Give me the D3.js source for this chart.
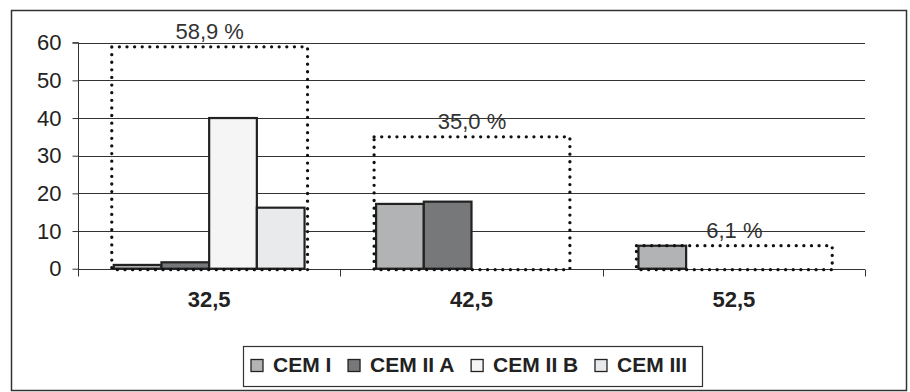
<!DOCTYPE html>
<html>
<head>
<meta charset="utf-8">
<script src="https://cdn.jsdelivr.net/npm/d3@7"></script>
<style>
  html, body { margin: 0; padding: 0; background: #fff; }
  svg { display: block; font-family: "Liberation Sans", Arial, sans-serif; }
</style>
</head>
<body>
<svg id="chart" width="910" height="392"></svg>
<script>
// Cement strength classes (MPa) and cement types
const categories = ["32,5", "42,5", "52,5"];
const series = ["CEM I", "CEM II A", "CEM II B", "CEM III"];
// Share (%) of each cement type per strength class
const cemI   = [1.0, 17.2, 6.1];
const cemIIA = [1.7, 17.8, 0];
const cemIIB = [40.0, 0, 0];
const cemIII = [16.2, 0, 0];
// Total share per strength class
const totals = [58.9, 35.0, 6.1];
const totalLabels = ["58,9 %", "35,0 %", "6,1 %"];
const yTicks = [0, 10, 20, 30, 40, 50, 60];

const seriesValues = [cemI, cemIIA, cemIIB, cemIII];
const colors = ["#b2b3b4", "#77787a", "#f5f5f5", "#e9eaec"];

const svg = d3.select("#chart");
const ink = "#222";

// outer frame
svg.append("rect")
  .attr("x", 11.5).attr("y", 10.5)
  .attr("width", 895).attr("height", 380)
  .attr("fill", "none").attr("stroke", "#333").attr("stroke-width", 1.5);

const plot = { left: 78, right: 865, top: 42.7, bottom: 268.7 };

const x = d3.scaleBand().domain(categories).range([plot.left, plot.right]).padding(0);
const xs = d3.scaleBand().domain(series).range([0, x.bandwidth()])
  .paddingInner(0).paddingOuter(0.75);
const y = d3.scaleLinear().domain([0, 60]).range([plot.bottom, plot.top]);

// horizontal gridlines
svg.append("g").selectAll("line").data(yTicks).join("line")
  .attr("x1", plot.left).attr("x2", plot.right)
  .attr("y1", d => Math.round(y(d)) + 0.5).attr("y2", d => Math.round(y(d)) + 0.5)
  .attr("stroke", "#333").attr("stroke-width", 1);

// value axis
const yAxis = svg.append("g")
  .attr("transform", `translate(${plot.left + 0.5},0)`)
  .call(d3.axisLeft(y).tickValues(yTicks).tickSize(6).tickPadding(11));
yAxis.select(".domain").attr("stroke", "#333").attr("d", `M-6,${y(60)}H0V${plot.bottom + 7}`);
yAxis.selectAll(".tick line").attr("stroke", "#333");
yAxis.selectAll(".tick text")
  .attr("font-size", 22).attr("fill", ink)
  .attr("font-family", "'Liberation Sans', Arial, sans-serif");

// category axis
const xAxis = svg.append("g")
  .attr("transform", `translate(0,${Math.round(plot.bottom) + 0.5})`)
  .call(d3.axisBottom(x).tickSize(0).tickPadding(0));
xAxis.select(".domain").remove();
xAxis.selectAll(".tick text").remove();
// tick marks at category boundaries
const bounds = categories.map(c => x(c)).concat([plot.right]);
xAxis.selectAll("line.bound").data(bounds).join("line")
  .attr("class", "bound")
  .attr("x1", d => Math.round(d) + 0.5).attr("x2", d => Math.round(d) + 0.5)
  .attr("y1", 0).attr("y2", 7)
  .attr("stroke", "#333");

svg.append("g").selectAll("text").data(categories).join("text")
  .attr("x", d => x(d) + x.bandwidth() / 2)
  .attr("y", 307)
  .attr("text-anchor", "middle")
  .attr("font-size", 22).attr("font-weight", "bold").attr("fill", ink)
  .text(d => d);

// bars
const barData = [];
categories.forEach((c, ci) => {
  series.forEach((s, si) => {
    const v = seriesValues[si][ci];
    if (v > 0) barData.push({ c, s, v, si });
  });
});
svg.append("g").selectAll("rect").data(barData).join("rect")
  .attr("x", d => x(d.c) + xs(d.s))
  .attr("y", d => y(d.v))
  .attr("width", xs.bandwidth())
  .attr("height", d => y(0) - y(d.v))
  .attr("fill", d => colors[d.si])
  .attr("stroke", ink).attr("stroke-width", 2.2);

// dotted boxes showing each class total
const boxes = categories.map((c, i) => ({
  x0: x(c) + xs(series[0]) - 2,
  x1: x(c) + xs(series[3]) + xs.bandwidth() + 3,
  top: y(totals[i]),
  label: totalLabels[i]
}));
const gb = svg.append("g");
gb.selectAll("rect").data(boxes).join("rect")
  .attr("x", d => d.x0).attr("y", d => d.top)
  .attr("width", d => d.x1 - d.x0)
  .attr("height", d => y(0) + 1 - d.top)
  .attr("fill", "none").attr("stroke", "#111")
  .attr("stroke-width", 3.3).attr("stroke-linecap", "round")
  .attr("stroke-dasharray", "0.01 7.6");
gb.selectAll("text").data(boxes).join("text")
  .attr("x", d => (d.x0 + d.x1) / 2)
  .attr("y", d => d.top - 8)
  .attr("text-anchor", "middle")
  .attr("font-size", 22).attr("fill", "#333")
  .text(d => d.label);

// legend
const leg = { x: 243, y: 346, w: 459, h: 40 };
const lg = svg.append("g");
lg.append("rect")
  .attr("x", leg.x + 0.5).attr("y", leg.y + 0.5)
  .attr("width", leg.w).attr("height", leg.h)
  .attr("fill", "#fff").attr("stroke", "#333").attr("stroke-width", 1.2);
const items = lg.selectAll("g.item").data(series).join("g").attr("class", "item");
items.append("rect")
  .attr("width", 12).attr("height", 12)
  .attr("y", -12)
  .attr("fill", (d, i) => colors[i]).attr("stroke", ink).attr("stroke-width", 1.3);
items.append("text")
  .attr("x", 22).attr("y", 0)
  .attr("font-size", 21).attr("font-weight", "bold").attr("fill", ink)
  .text(d => d);
const widths = [];
items.each(function () {
  widths.push(22 + d3.select(this).select("text").node().getComputedTextLength());
});
// items spread across the legend, leaving a small inner margin
const inner = { left: 8, right: 15 };
const span = leg.w - inner.left - inner.right;
const gap = Math.max(8, (span - d3.sum(widths)) / (widths.length - 1));
let cx = leg.x + inner.left;
items.attr("transform", (d, i) => {
  const t = `translate(${cx},${leg.y + 25.5})`;
  cx += widths[i] + gap;
  return t;
});
</script>
</body>
</html>
